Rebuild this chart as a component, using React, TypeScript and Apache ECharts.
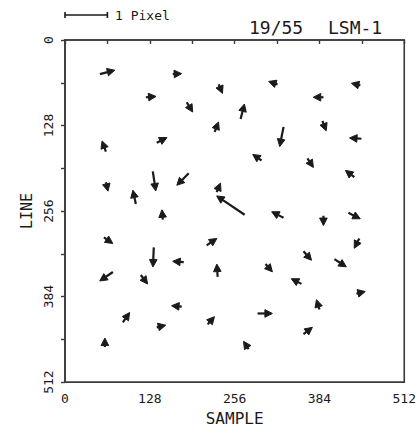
import React, { useEffect, useRef } from "react";
import * as echarts from "echarts";

// Vector positions (SAMPLE, LINE) and displacements in pixels
const SAMPLE_X = [52.7,162.6,231.9,122.0,183.7,225.9,138.5,61.7,61.7,132.5,
  186.7,228.9,106.9,271.1,320.8,445.7,390.0,265.0,388.5,329.8,
  447.3,296.7,365.9,436.7,147.6,58.7,213.8,134.0,179.2,230.4,
  72.3,114.4,176.2,87.3,138.5,215.3,60.2,
  329.8,390.0,427.7,444.2,359.9,406.6,302.7,356.9,439.7,384.0,290.6,359.9,277.1];
const LINE_Y = [51.0,51.0,66.5,85.7,93.1,137.4,153.7,167.0,212.8,196.5,
  199.5,227.6,245.3,261.5,66.5,68.0,85.7,118.2,121.2,130.0,
  147.8,180.3,177.3,205.4,268.9,295.5,307.3,310.3,332.5,354.6,
  347.2,351.7,399.0,422.6,430.0,425.6,459.5,
  266.0,263.0,258.6,297.0,316.2,328.0,335.4,365.0,379.7,403.4,409.3,440.3,462.5];
const DX = [0.35,0.21,0.09,0.24,0.14,0.09,0.24,-0.09,0.05,0.07,
  -0.28,0.09,-0.07,-0.66,-0.21,-0.21,-0.24,0.09,0.09,-0.09,
  -0.28,-0.21,0.14,-0.21,-0.02,0.21,0.24,-0.02,-0.26,-0.02,
  -0.31,0.16,-0.24,0.16,0.21,0.16,0,
  -0.28,0,0.28,-0.12,0.19,0.28,0.16,-0.24,0.21,-0.07,0.35,0.21,-0.12];
const DY = [-0.09,-0.01,0.21,-0.02,0.23,-0.23,-0.12,-0.25,0.21,0.46,
  0.28,-0.21,-0.32,-0.44,-0.07,-0.05,0,-0.35,0.23,0.46,
  -0.02,-0.14,0.21,-0.16,-0.23,0.14,-0.16,0.46,-0.02,-0.30,
  0.21,0.21,-0.02,-0.23,-0.05,-0.18,-0.21,
  -0.14,0.23,0.14,0.23,0.21,0.18,0.18,-0.12,-0.05,-0.23,0,-0.16,-0.18];

const TICKS = [0, 128, 256, 384, 512];
const UNITS_PER_PIXEL = 64; // one pixel of displacement drawn as 64 sample units
const TITLE_LEFT = "19/55";
const TITLE_RIGHT = "LSM-1";
const LEGEND_TEXT = "1 Pixel";

const INK = "#1a1a1a";
const FRAME = "#3a3a3a";
const MONO = "DejaVu Sans Mono";

export default function App() {
  const ref = useRef<HTMLDivElement>(null);
  useEffect(() => {
    if (!ref.current) return;
    const chart = echarts.init(ref.current, undefined, { renderer: "svg" });
    const data = SAMPLE_X.map((x, i) => [x, LINE_Y[i], DX[i], DY[i]]);
    const fmt = (v: number) => (TICKS.indexOf(v) >= 0 ? String(v) : "");
    chart.setOption({
      animation: false,
      backgroundColor: "#ffffff",
      grid: {
        left: 65, top: 40, width: 340, height: 346.5,
        show: true, borderColor: FRAME, borderWidth: 1.6, backgroundColor: "transparent",
      },
      xAxis: {
        type: "value", min: 0, max: 512, interval: 64,
        name: "SAMPLE", nameLocation: "middle", nameGap: 27,
        nameTextStyle: { fontFamily: MONO, fontSize: 16, color: INK },
        axisLine: { show: true, lineStyle: { color: FRAME, width: 1.6 } },
        axisTick: { show: true, length: 4, lineStyle: { color: FRAME, width: 1.4 } },
        axisLabel: { formatter: fmt, fontFamily: MONO, fontSize: 13, color: INK, margin: 10 },
        splitLine: { show: false },
      },
      yAxis: {
        type: "value", min: 0, max: 512, interval: 64, inverse: true,
        name: "LINE", nameLocation: "middle", nameGap: 31, nameRotate: 90,
        nameTextStyle: { fontFamily: MONO, fontSize: 15, color: INK },
        axisLine: { show: true, lineStyle: { color: FRAME, width: 1.6 } },
        axisTick: { show: true, length: 4, lineStyle: { color: FRAME, width: 1.4 } },
        axisLabel: { formatter: fmt, fontFamily: MONO, fontSize: 13, color: INK, margin: 10, rotate: 90 },
        splitLine: { show: false },
      },
      series: [
        {
          type: "custom",
          data,
          renderItem: (params: any, api: any) => {
            const x = api.value(0), y = api.value(1), dx = api.value(2), dy = api.value(3);
            const t = api.coord([x, y]);
            const h = api.coord([x + dx * UNITS_PER_PIXEL, y + dy * UNITS_PER_PIXEL]);
            const vx = h[0] - t[0], vy = h[1] - t[1];
            const len = Math.sqrt(vx * vx + vy * vy) || 1;
            const ux = vx / len, uy = vy / len;
            const L = 7.5, W = 3.8;
            const bx = h[0] - ux * L, by = h[1] - uy * L;
            const nx = -uy, ny = ux;
            return {
              type: "group",
              children: [
                {
                  type: "line",
                  shape: { x1: t[0], y1: t[1], x2: bx, y2: by },
                  style: { stroke: INK, lineWidth: 2.2 },
                },
                {
                  type: "polygon",
                  shape: { points: [[h[0], h[1]], [bx + nx * W, by + ny * W], [bx - nx * W, by - ny * W]] },
                  style: { fill: INK, stroke: INK, lineWidth: 1, lineJoin: "round" },
                },
              ],
            };
          },
        },
      ],
    });
    const p0 = chart.convertToPixel({ gridIndex: 0 }, [0, 0]) as number[];
    const p1 = chart.convertToPixel({ gridIndex: 0 }, [UNITS_PER_PIXEL, 0]) as number[];
    const legLen = p1[0] - p0[0];
    const lx = 65, ly = 15;
    chart.setOption({
      graphic: [
        { type: "line", shape: { x1: lx, y1: ly, x2: lx + legLen, y2: ly }, style: { stroke: INK, lineWidth: 1.6 } },
        { type: "line", shape: { x1: lx, y1: ly - 3, x2: lx, y2: ly + 3 }, style: { stroke: INK, lineWidth: 1.6 } },
        { type: "line", shape: { x1: lx + legLen, y1: ly - 3, x2: lx + legLen, y2: ly + 3 }, style: { stroke: INK, lineWidth: 1.6 } },
        {
          type: "text", left: 115, top: 9,
          style: { text: LEGEND_TEXT, fontFamily: MONO, fontSize: 13, fill: INK },
        },
        {
          type: "text", left: 249, top: 18,
          style: { text: TITLE_LEFT, fontFamily: MONO, fontSize: 18, fill: INK },
        },
        {
          type: "text", left: 328, top: 18,
          style: { text: TITLE_RIGHT, fontFamily: MONO, fontSize: 18, fill: INK },
        },
      ],
    });
    return () => chart.dispose();
  }, []);
  return (
    <div
      ref={ref}
      style={{ position: "absolute", left: 0, top: 0, width: 419, height: 431 }}
    />
  );
}
